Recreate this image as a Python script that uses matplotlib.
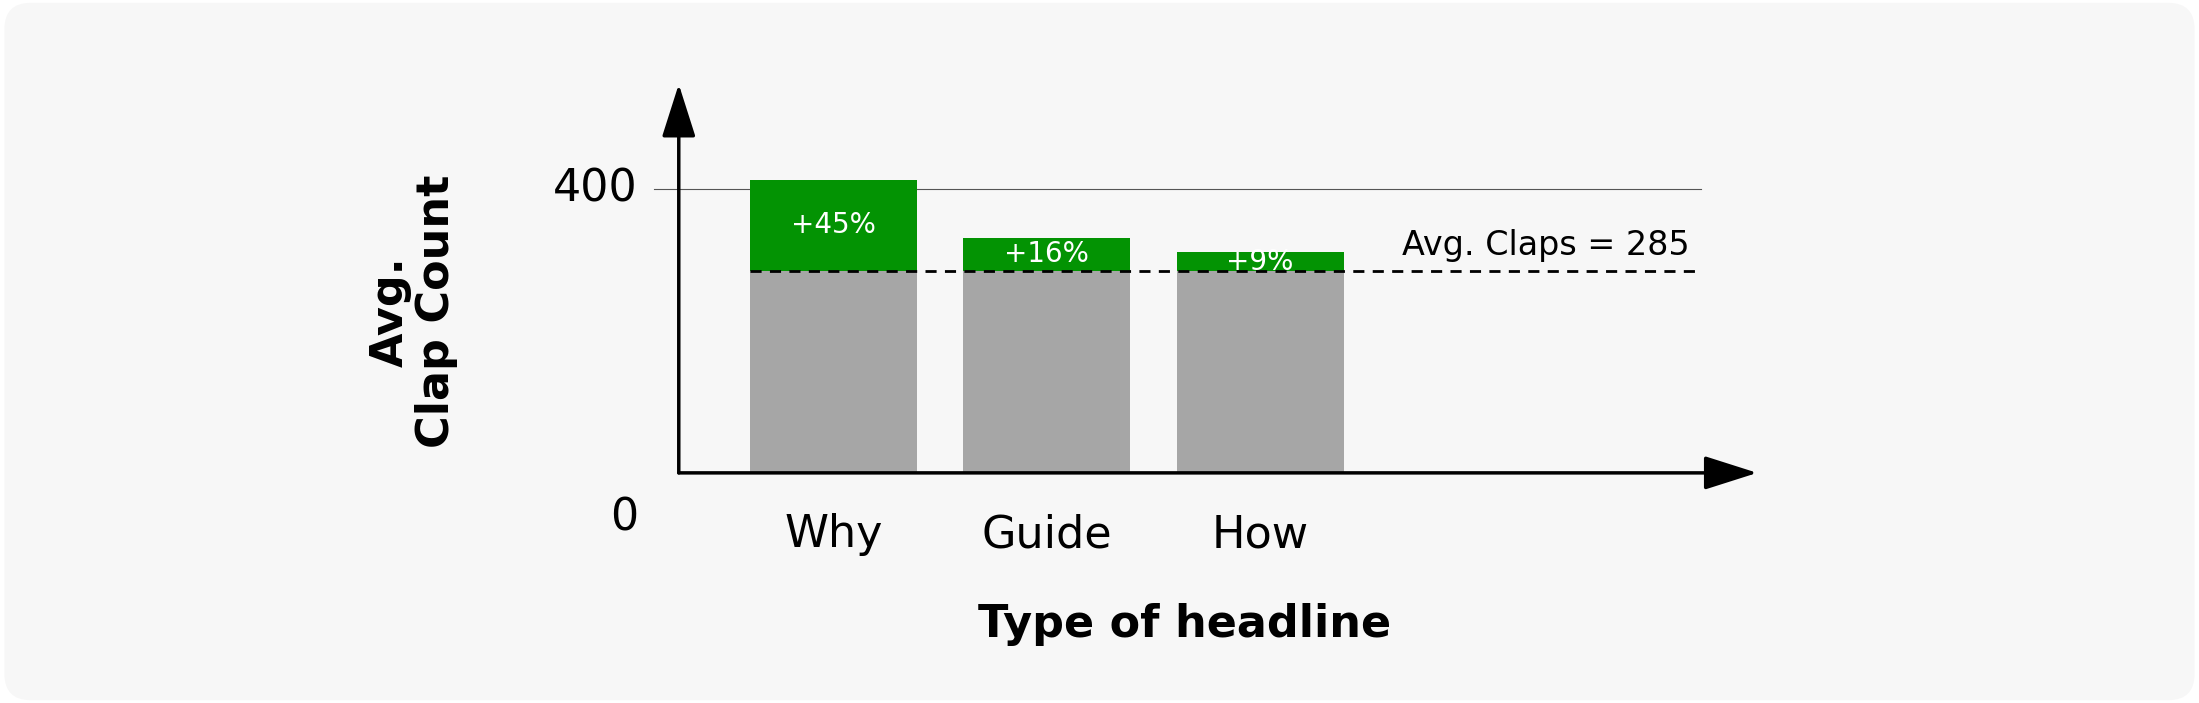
import matplotlib.pyplot as plt
from matplotlib.patches import FancyBboxPatch

categories = ["Why", "Guide", "How"]
clap_counts = [413, 331, 311]
uplift_labels = ["+45%", "+16%", "+9%"]
avg_claps = 285

W, H = 1568, 501  # layout coordinates (scaled to the output image)


def fx(x):
    return x / W


def fy(y):
    return 1 - y / H


fig = plt.figure(figsize=(21.99, 7.03), dpi=100)
fig.patch.set_facecolor("white")
fig.patches.append(FancyBboxPatch((0.002, 0.004), 0.996, 0.992,
                                  boxstyle="round,pad=0,rounding_size=0.012",
                                  transform=fig.transFigure, facecolor="#f7f7f7",
                                  edgecolor="none", mutation_aspect=3.13, zorder=-10))

ax = fig.add_axes([fx(484), fy(337), fx(1253) - fx(484), fy(60) - fy(337)])
ax.set_zorder(5)
ax.set_facecolor("none")
x0, x1 = -0.727, 4.332
ax.set_xlim(x0, x1)
ax.set_ylim(0, 548)
for s in ax.spines.values():
    s.set_visible(False)
ax.set_xticks([])
ax.set_yticks([])

width = 0.783
xs = range(len(categories))
ax.bar(xs, [avg_claps] * 3, width=width, color="#a6a6a6", zorder=2)
ax.bar(xs, [v - avg_claps for v in clap_counts], bottom=avg_claps, width=width,
       color="#039303", zorder=2)
for i, (v, lab) in enumerate(zip(clap_counts, uplift_labels)):
    ax.text(i, (v + avg_claps) / 2, lab, color="white", fontsize=20,
            ha="center", va="center", zorder=3)

ax.plot([(466 - 594.5) / 152, (1213 - 594.5) / 152], [400, 400], color="#555555",
        lw=0.8, clip_on=False, zorder=1)
ax.plot([-width / 2, (1213 - 594.5) / 152], [avg_claps, avg_claps], color="black",
        lw=2, ls=(0, (4, 3)), zorder=4)
ax.text((1205 - 594.5) / 152, avg_claps + 12, f"Avg. Claps = {avg_claps}",
        fontsize=24, ha="right", va="bottom")

arrow = dict(arrowstyle="-|>,head_length=1.1,head_width=0.35", color="black", lw=2.5,
             shrinkA=0, shrinkB=0, mutation_scale=30)
ax.annotate("", xy=(x1, 0), xytext=(x0, 0), arrowprops=arrow, annotation_clip=False)
ax.annotate("", xy=(x0, 548), xytext=(x0, 0), arrowprops=arrow, annotation_clip=False)

fig.text(fx(455), fy(135), "400", fontsize=32, ha="right", va="center")
fig.text(fx(455), fy(369), "0", fontsize=32, ha="right", va="center")
for i, c in enumerate(categories):
    fig.text(fx(594.5 + 152 * i), fy(381), c, fontsize=32, ha="center", va="center")
fig.text(fx(845), fy(445), "Type of headline", fontsize=32, fontweight="bold",
         ha="center", va="center")
fig.text(fx(295), fy(222), "Avg.\nClap Count", fontsize=32, fontweight="bold",
         ha="center", va="center", rotation=90, linespacing=1.1)

fig.savefig("out.png", dpi=100)
